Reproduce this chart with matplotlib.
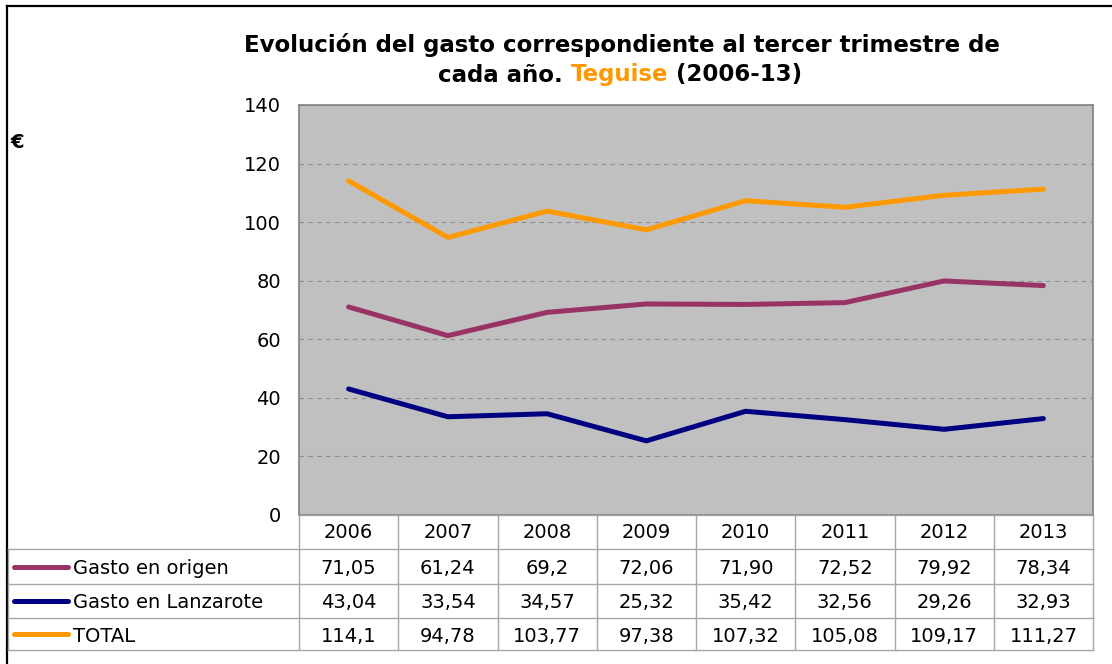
import matplotlib
matplotlib.use("Agg")
import matplotlib.pyplot as plt
from matplotlib.lines import Line2D

years = ["2006", "2007", "2008", "2009", "2010", "2011", "2012", "2013"]
origen = [71.05, 61.24, 69.2, 72.06, 71.90, 72.52, 79.92, 78.34]
lanzarote = [43.04, 33.54, 34.57, 25.32, 35.42, 32.56, 29.26, 32.93]
total = [114.1, 94.78, 103.77, 97.38, 107.32, 105.08, 109.17, 111.27]
origen_txt = ["71,05", "61,24", "69,2", "72,06", "71,90", "72,52", "79,92", "78,34"]
lanzarote_txt = ["43,04", "33,54", "34,57", "25,32", "35,42", "32,56", "29,26", "32,93"]
total_txt = ["114,1", "94,78", "103,77", "97,38", "107,32", "105,08", "109,17", "111,27"]
series_names = ["Gasto en origen", "Gasto en Lanzarote", "TOTAL"]
colors = ["#993366", "#000080", "#FF9900"]

W, H = 1112, 664


def fx(x):
    return x / W


def fy(y):
    return 1 - y / H


def main():
    plt.rcParams['font.family'] = ['DejaVu Sans']
    fig = plt.figure(figsize=(W / 100, H / 100), dpi=100)

    # outer frame (only left and top edges are visible)
    fig.add_artist(Line2D([fx(7), fx(7)], [fy(6), fy(700)], color="black", lw=1.6))
    fig.add_artist(Line2D([fx(7), fx(1200)], [fy(6), fy(6)], color="black", lw=1.6))

    x0, x1, ytop, ybot = 299, 1093, 105, 515
    ax = fig.add_axes([fx(x0), fy(ybot), fx(x1 - x0), fy(ytop) - fy(ybot)])
    ax.set_facecolor("#C0C0C0")
    xs = list(range(len(years)))
    for vals, c in zip([origen, lanzarote, total], colors):
        ax.plot(xs, vals, color=c, lw=3.6, solid_capstyle="round", zorder=3)
    ax.set_xlim(-0.5, len(years) - 0.5)
    ax.set_ylim(0, 140)
    ax.set_yticks(range(0, 141, 20))
    ax.set_xticks([])
    ax.tick_params(axis="y", length=0, pad=13, labelsize=14)
    ax.yaxis.grid(True, linestyle=(0, (4, 4)), color="#8C8C8C", lw=0.8)
    ax.set_axisbelow(True)
    for s in ax.spines.values():
        s.set_color("#808080")
        s.set_linewidth(1.2)

    # data table
    grid_c = "#A6A6A6"
    colw = (x1 - x0) / len(years)
    rows_y = [515, 549, 584, 618, 650]

    def hline(y, xa, xb):
        fig.add_artist(Line2D([fx(xa), fx(xb)], [fy(y), fy(y)], color=grid_c, lw=1.0))

    def vline(x, ya, yb):
        fig.add_artist(Line2D([fx(x), fx(x)], [fy(ya), fy(yb)], color=grid_c, lw=1.0))

    hline(rows_y[0], x0, x1)
    for y in rows_y[1:]:
        hline(y, 8, x1)
    for i in range(len(years) + 1):
        vline(x0 + i * colw, rows_y[0], rows_y[-1])
    vline(8, rows_y[1], rows_y[-1])

    for i, yr in enumerate(years):
        fig.text(fx(x0 + (i + 0.5) * colw), fy((rows_y[0] + rows_y[1]) / 2 + 1), yr,
                 ha="center", va="center", fontsize=14)

    for r, (name, txts, c) in enumerate(zip(series_names,
                                            [origen_txt, lanzarote_txt, total_txt], colors)):
        yc = (rows_y[r + 1] + rows_y[r + 2]) / 2 + 2
        fig.add_artist(Line2D([fx(14), fx(68)], [fy(yc - 2), fy(yc - 2)], color=c, lw=3.6,
                              solid_capstyle="round"))
        fig.text(fx(73), fy(yc), name, ha="left", va="center", fontsize=14)
        for i, t in enumerate(txts):
            fig.text(fx(x0 + (i + 0.5) * colw), fy(yc), t, ha="center", va="center", fontsize=14)

    fig.text(fx(10), fy(143), "€", ha="left", va="center", fontsize=14, fontweight="bold")

    # title
    fig.text(fx(622), fy(45), "Evolución del gasto correspondiente al tercer trimestre de",
             ha="center", va="center", fontsize=16.5, fontweight="bold")
    parts = [("cada año. ", "black"), ("Teguise", "#FF9900"), (" (2006-13)", "black")]
    fig.canvas.draw()
    r = fig.canvas.get_renderer()
    txts = [fig.text(0, fy(75), p, ha="left", va="center", fontsize=16.5,
                     fontweight="bold", color=c) for p, c in parts]
    widths = [t.get_window_extent(r).width for t in txts]
    total_w = sum(widths)
    start = 620 - total_w / 2
    for t, w in zip(txts, widths):
        t.set_x(fx(start))
        start += w

    fig.savefig("out.png", dpi=100)


if __name__ == "__main__":
    main()
